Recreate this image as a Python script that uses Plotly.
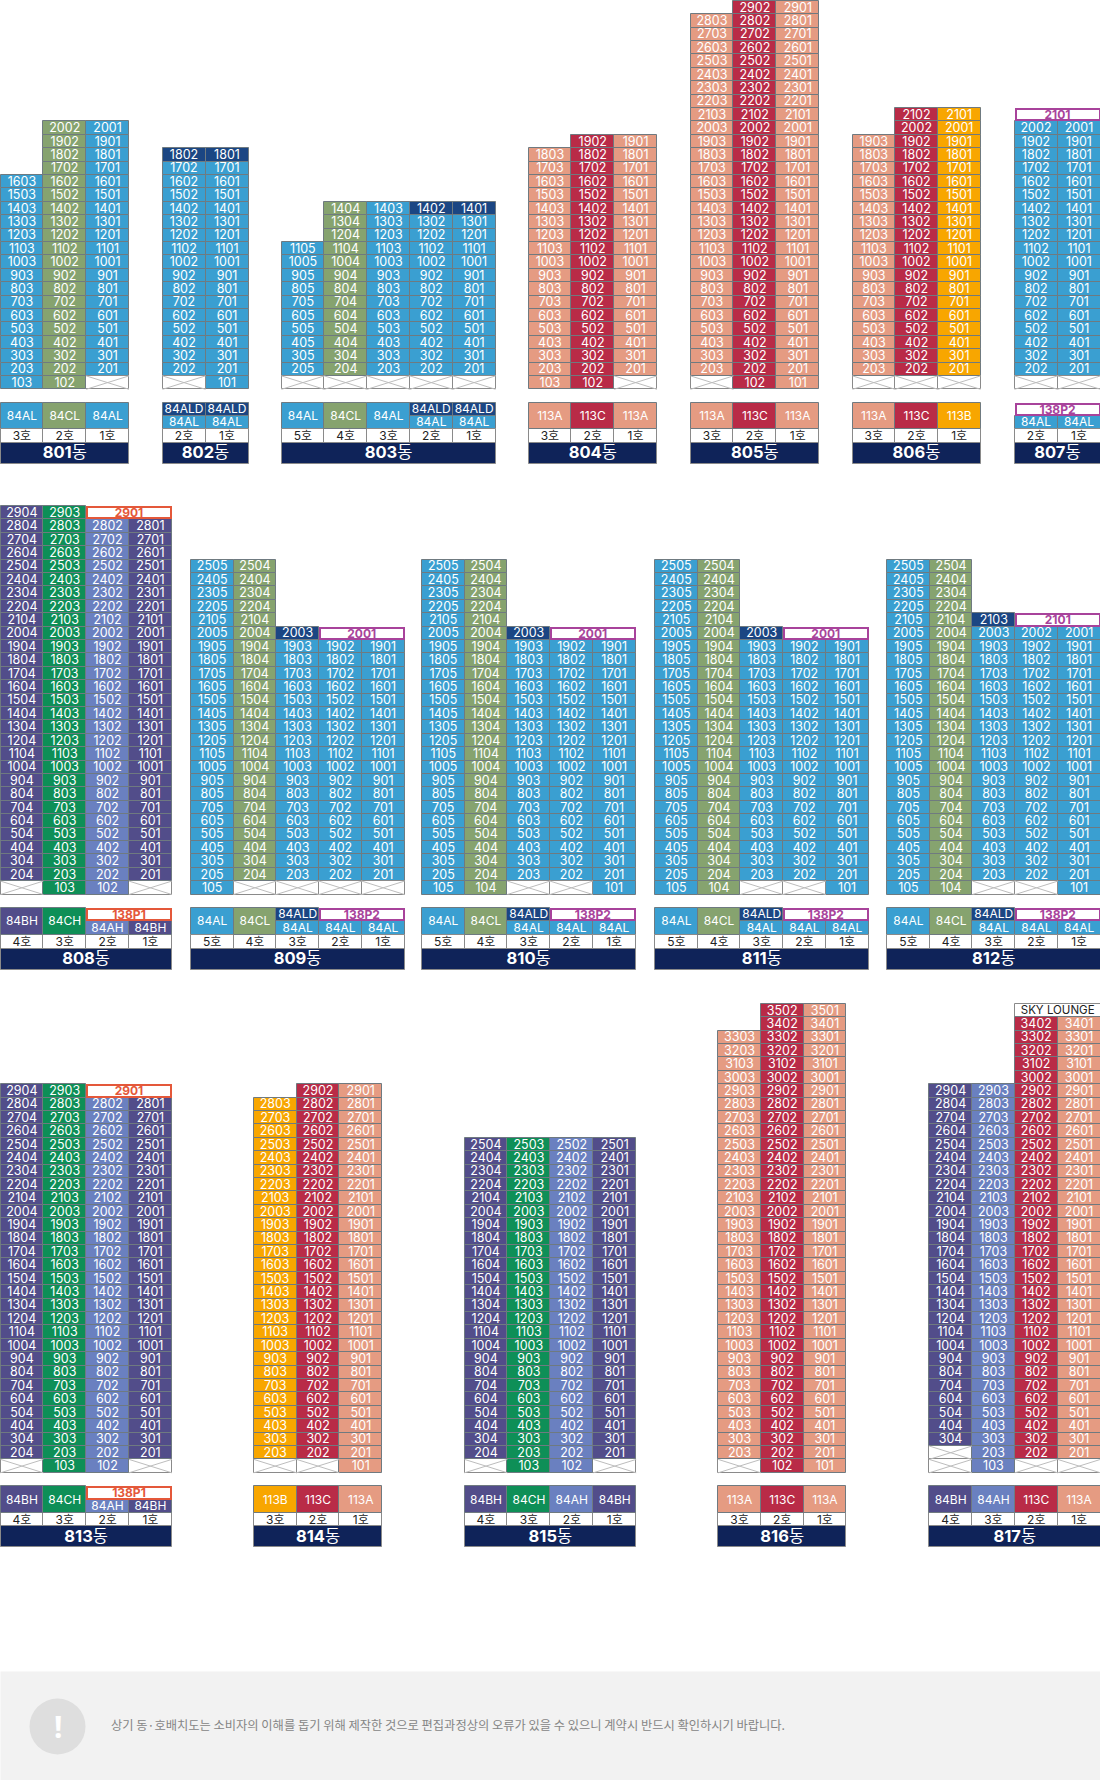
import plotly.graph_objects as go

# unit colours
UNIT_COLORS = {
    '84AL': '#3A9FD1', '84CL': '#86A36F', '84ALD': '#1B4683',
    '84BH': '#524D8A', '84CH': '#0E8F57', '84AH': '#6A80C0',
    '113A': '#E59B82', '113B': '#F8A600', '113C': '#B92B47',
}
PENTHOUSE_COLORS = {'138P1': '#E4583A', '138P2': '#A8439B'}
BAND_COLOR = '#0F2359'
LINE_COLOR = '#6F7A80'

# one entry per dong: lines (left to right), lowest floor, highest floor, unit type
D801 = ([3, 2, 1], [1, 1, 2], [16, 20, 20], ['84AL', '84CL', '84AL'])
D802 = ([2, 1], [2, 1], [18, 18], ['84AL', '84AL'])
D803 = ([5, 4, 3, 2, 1], [2, 2, 2, 2, 2], [11, 14, 14, 14, 14], ['84AL', '84CL', '84AL', '84AL', '84AL'])
D804 = ([3, 2, 1], [1, 1, 2], [18, 19, 19], ['113A', '113C', '113A'])
D805 = ([3, 2, 1], [2, 1, 1], [28, 29, 29], ['113A', '113C', '113A'])
D806 = ([3, 2, 1], [2, 2, 2], [19, 21, 21], ['113A', '113C', '113B'])
D807 = ([2, 1], [2, 2], [20, 20], ['84AL', '84AL'])
D808 = ([4, 3, 2, 1], [2, 1, 1, 2], [29, 29, 28, 28], ['84BH', '84CH', '84AH', '84BH'])
D809 = ([5, 4, 3, 2, 1], [1, 2, 2, 2, 2], [25, 25, 20, 19, 19], ['84AL', '84CL', '84AL', '84AL', '84AL'])
D810 = ([5, 4, 3, 2, 1], [1, 1, 2, 2, 1], [25, 25, 20, 19, 19], ['84AL', '84CL', '84AL', '84AL', '84AL'])
D811 = ([5, 4, 3, 2, 1], [1, 1, 2, 2, 1], [25, 25, 20, 19, 19], ['84AL', '84CL', '84AL', '84AL', '84AL'])
D812 = ([5, 4, 3, 2, 1], [1, 1, 2, 2, 1], [25, 25, 21, 20, 20], ['84AL', '84CL', '84AL', '84AL', '84AL'])
D813 = ([4, 3, 2, 1], [2, 1, 1, 2], [29, 29, 28, 28], ['84BH', '84CH', '84AH', '84BH'])
D814 = ([3, 2, 1], [2, 2, 1], [28, 29, 29], ['113B', '113C', '113A'])
D815 = ([4, 3, 2, 1], [2, 1, 1, 2], [25, 25, 25, 25], ['84BH', '84CH', '84AH', '84BH'])
D816 = ([3, 2, 1], [2, 1, 1], [33, 35, 35], ['113A', '113C', '113A'])
D817 = ([4, 3, 2, 1], [3, 1, 2, 2], [29, 29, 34, 34], ['84BH', '84AH', '113C', '113A'])

DONGS = {801: D801, 802: D802, 803: D803, 804: D804, 805: D805, 806: D806, 807: D807,
         808: D808, 809: D809, 810: D810, 811: D811, 812: D812,
         813: D813, 814: D814, 815: D815, 816: D816, 817: D817}

# single units on top of a column that differ from the rest of it (dong, floor, line, type)
ACCENT_UNITS = [(802, 18, 2, '84ALD'), (802, 18, 1, '84ALD'), (803, 14, 2, '84ALD'), (803, 14, 1, '84ALD'),
                (809, 20, 3, '84ALD'), (810, 20, 3, '84ALD'), (811, 20, 3, '84ALD'), (812, 21, 3, '84ALD')]

# penthouses across lines 2 and 1 (dong, floor, label, type)
PENTHOUSES = [(807, 21, '2101', '138P2'), (808, 29, '2901', '138P1'), (809, 20, '2001', '138P2'),
              (810, 20, '2001', '138P2'), (811, 20, '2001', '138P2'), (812, 21, '2101', '138P2'),
              (813, 29, '2901', '138P1')]
SKY_LOUNGE = (817, 35, 'SKY LOUNGE')

# upper half of the legend cell, where a column has two unit types (dong, line, type)
LEGEND_UPPER = [(802, 2, '84ALD'), (802, 1, '84ALD'), (803, 2, '84ALD'), (803, 1, '84ALD'),
                (809, 3, '84ALD'), (810, 3, '84ALD'), (811, 3, '84ALD'), (812, 3, '84ALD')]

FOOT_NOTE = '상기 동·호배치도는 소비자의 이해를 돕기 위해 제작한 것으로 편집과정상의 오류가 있을 수 있으니 계약시 반드시 확인하시기 바랍니다.'

# layout in page pixels
ROW_Y = {'top': (388.8, 402, 428, 442, 463),
         'mid': (894, 907, 934, 948, 969),
         'low': (1472.3, 1485.7, 1512.3, 1525.7, 1546.7)}
PLACES = {801: (0, 128.5, 'top'), 802: (162, 248, 'top'), 803: (281, 495, 'top'), 804: (528, 656.5, 'top'),
          805: (690, 818.8, 'top'), 806: (852, 980, 'top'), 807: (1014, 1100, 'top'),
          808: (0, 171.3, 'mid'), 809: (190.3, 404, 'mid'), 810: (421.4, 635, 'mid'),
          811: (654.5, 868, 'mid'), 812: (886.6, 1100, 'mid'),
          813: (0, 171.3, 'low'), 814: (253.3, 381.7, 'low'), 815: (464, 635.7, 'low'),
          816: (717.7, 845.7, 'low'), 817: (928.7, 1100, 'low')}
ROW_H = 13.4
TEXT_DROP = 1
CELL_FONT = 'Inter, "Noto Sans CJK KR", sans-serif'

# collect everything first, one list of boxes per fill colour
boxes = {}
texts = {}
cross_x, cross_y = [], []


def add_box(x0, x1, y0, y1, fill, line=LINE_COLOR, width=1):
    b = boxes.setdefault((fill, line, width), dict(x=[], w=[], base=[], h=[]))
    b['x'].append((x0 + x1) / 2)
    b['w'].append(x1 - x0)
    b['base'].append(y0)
    b['h'].append(y1 - y0)


def add_text(x, y, s, color='white', size=12.5):
    t = texts.setdefault((color, size), dict(x=[], y=[], s=[]))
    t['x'].append(x)
    t['y'].append(y + TEXT_DROP)
    t['s'].append(s)


for dong, (lines, first, last, units) in DONGS.items():
    left, right, row = PLACES[dong]
    bottom, leg_top, leg_bot, ho_bot, band_bot = ROW_Y[row]
    cw = (right - left) / len(lines)
    accents = {(f, l): t for d, f, l, t in ACCENT_UNITS if d == dong}
    uppers = {l: t for d, l, t in LEGEND_UPPER if d == dong}
    pent = [p for p in PENTHOUSES if p[0] == dong]
    for i, line in enumerate(lines):
        x0, x1 = left + i * cw, left + (i + 1) * cw
        xc = (x0 + x1) / 2
        for floor in range(1, first[i]):
            y0 = bottom - floor * ROW_H
            add_box(x0, x1, y0, y0 + ROW_H, 'white', '#8A8A8A')
            cross_x += [x0, x1, None, x0, x1, None]
            cross_y += [y0, y0 + ROW_H, None, y0 + ROW_H, y0, None]
        for floor in range(first[i], last[i] + 1):
            y0 = bottom - floor * ROW_H
            unit = accents.get((floor, line), units[i])
            add_box(x0, x1, y0, y0 + ROW_H, UNIT_COLORS[unit])
            add_text(xc, y0 + ROW_H / 2, str(floor * 100 + line))
        # legend cell for the line
        mid = (leg_top + leg_bot) / 2
        upper = uppers.get(line)
        if pent and line in (2, 1):
            upper = 'pent'
        if upper:
            add_box(x0, x1, mid, leg_bot, UNIT_COLORS[units[i]])
            add_text(xc, (mid + leg_bot) / 2, units[i], size=12)
            if upper != 'pent':
                add_box(x0, x1, leg_top, mid, UNIT_COLORS[upper])
                add_text(xc, (leg_top + mid) / 2, upper, size=12)
        else:
            add_box(x0, x1, leg_top, leg_bot, UNIT_COLORS[units[i]])
            add_text(xc, (leg_top + leg_bot) / 2, units[i], size=12)
        add_box(x0, x1, leg_bot, ho_bot, 'white', '#8A8A8A')
        add_text(xc, (leg_bot + ho_bot) / 2, f'{line}호', color='#222222', size=12)
    # penthouse spans the last two columns
    for _, floor, label, ptype in pent:
        color = PENTHOUSE_COLORS[ptype]
        x0, x1 = right - 2 * cw + 1, right - 1
        y0 = bottom - floor * ROW_H
        add_box(x0, x1, y0 + 1, y0 + ROW_H - 1, 'white', color, 2)
        add_text((x0 + x1) / 2, y0 + ROW_H / 2 + 0.5, f'<b>{label}</b>', color=color, size=12)
        add_box(x0, x1, leg_top + 1, (leg_top + leg_bot) / 2 - 1, 'white', color, 2)
        add_text((x0 + x1) / 2, leg_top + (leg_bot - leg_top) / 4 + 0.5, f'<b>{ptype}</b>', color=color, size=12)
    if dong == SKY_LOUNGE[0]:
        x0, x1 = right - 2 * cw, right
        y0 = bottom - SKY_LOUNGE[1] * ROW_H
        add_box(x0, x1, y0, y0 + ROW_H, 'white', '#8A8A8A')
        add_text((x0 + x1) / 2, y0 + ROW_H / 2, SKY_LOUNGE[2], color='#222222', size=11.5)
    add_box(left, right, ho_bot, band_bot, BAND_COLOR, '#8A8A8A')
    add_text((left + right) / 2, (ho_bot + band_bot) / 2, f'<b>{dong}</b>동', size=16.5)

fig = go.Figure()

for (fill, line, width), b in boxes.items():
    fig.add_trace(go.Bar(
        x=b['x'], y=b['h'], base=b['base'], width=b['w'],
        marker=dict(color=fill, line=dict(color=line, width=width)),
        hoverinfo='skip', showlegend=False
    ))

fig.add_trace(go.Scatter(
    x=cross_x, y=cross_y, mode='lines',
    line=dict(color='#BDBDBD', width=1),
    hoverinfo='skip', showlegend=False
))

for (color, size), t in texts.items():
    fig.add_trace(go.Scatter(
        x=t['x'], y=t['y'], text=t['s'], mode='text',
        textposition='middle center',
        textfont=dict(family=CELL_FONT, size=size, color=color),
        hoverinfo='skip', showlegend=False
    ))

# footer
fig.add_shape(type='rect', x0=0, x1=1100, y0=1671, y1=1780, fillcolor='#F2F2F2', line_width=0, layer='below')
fig.add_shape(type='circle', x0=29, x1=85, y0=1698, y1=1754, fillcolor='#DEDEDE', line_width=0, layer='below')
fig.add_annotation(x=57, y=1726, text='<b>!</b>', showarrow=False,
                   font=dict(family='Noto Sans', size=30, color='white'))
fig.add_annotation(x=108.5, y=1724.5, text=FOOT_NOTE, showarrow=False, xanchor='left',
                   font=dict(family='Noto Sans CJK KR', size=12.25, color='#858585'))

fig.update_layout(
    width=1100, height=1780,
    margin=dict(l=0, r=0, t=0, b=0),
    paper_bgcolor='white', plot_bgcolor='white',
    barmode='overlay', bargap=0,
    showlegend=False,
    xaxis=dict(range=[-0.5, 1099.5], visible=False, fixedrange=True),
    yaxis=dict(range=[1779.5, -0.5], visible=False, fixedrange=True)
)

fig.write_html("out.html", config=dict(displayModeBar=False),
               post_script="document.body.style.margin='0';")
